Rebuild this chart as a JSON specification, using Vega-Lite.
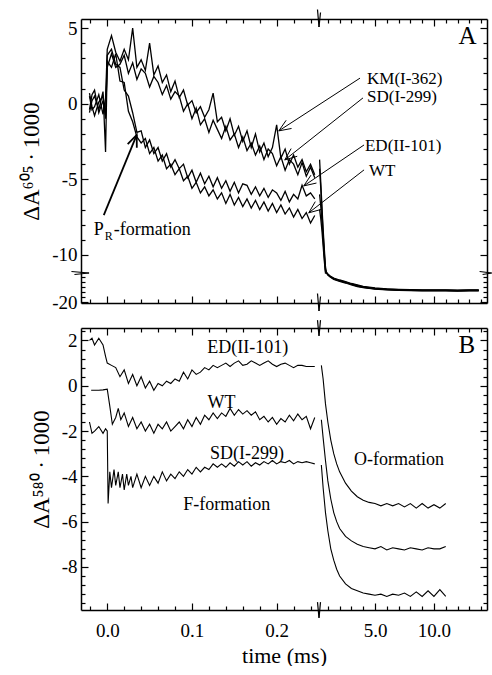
{
"$schema": "https://vega.github.io/schema/vega-lite/v6.json",
"padding": {"left": 20, "top": 8, "right": 0, "bottom": 0},
"bounds": "flush",
"spacing": 25,
"config": {
  "view": {"stroke": null},
  "axis": {"domainColor": "black", "tickColor": "black", "labelColor": "black", "titleColor": "black", "labelFont": "Liberation Serif", "titleFont": "Liberation Serif", "grid": false, "domainWidth": 1.5, "tickWidth": 1.2, "labelOverlap": false, "labelFlush": false, "labelBound": false, "titleFontWeight": "normal"},
  "line": {"color": "black", "strokeWidth": 1.1},
  "rule": {"color": "black", "strokeWidth": 1.2},
  "text": {"font": "Liberation Serif", "color": "black"}
},
"datasets": {
"a": [
{"s":"KM","p":1,"t":-0.021,"v":0.5},{"s":"KM","p":1,"t":-0.018,"v":-0.4},{"s":"KM","p":1,"t":-0.015,"v":-0.2},{"s":"KM","p":1,"t":-0.01,"v":0.6},{"s":"KM","p":1,"t":-0.005,"v":-0.7},{"s":"KM","p":1,"t":-0.002,"v":0.4},{"s":"KM","p":1,"t":0,"v":3.6},
{"s":"KM","p":1,"t":0.005,"v":4.5},{"s":"KM","p":1,"t":0.01,"v":3.4},{"s":"KM","p":1,"t":0.015,"v":2.8},{"s":"KM","p":1,"t":0.02,"v":3.6},{"s":"KM","p":1,"t":0.025,"v":2.9},{"s":"KM","p":1,"t":0.03,"v":5.0},{"s":"KM","p":1,"t":0.035,"v":2.4},{"s":"KM","p":1,"t":0.04,"v":2.9},{"s":"KM","p":1,"t":0.045,"v":2.2},{"s":"KM","p":1,"t":0.05,"v":4.0},
{"s":"KM","p":1,"t":0.055,"v":1.9},{"s":"KM","p":1,"t":0.06,"v":2.5},{"s":"KM","p":1,"t":0.065,"v":1.4},{"s":"KM","p":1,"t":0.07,"v":1.9},{"s":"KM","p":1,"t":0.075,"v":0.8},{"s":"KM","p":1,"t":0.08,"v":1.5},{"s":"KM","p":1,"t":0.085,"v":0.4},{"s":"KM","p":1,"t":0.09,"v":0.9},{"s":"KM","p":1,"t":0.095,"v":-0.1},{"s":"KM","p":1,"t":0.1,"v":0.2},
{"s":"KM","p":1,"t":0.105,"v":-0.6},{"s":"KM","p":1,"t":0.11,"v":-0.2},{"s":"KM","p":1,"t":0.115,"v":-0.9},{"s":"KM","p":1,"t":0.12,"v":-0.4},{"s":"KM","p":1,"t":0.125,"v":0.7},{"s":"KM","p":1,"t":0.13,"v":-1.2},{"s":"KM","p":1,"t":0.135,"v":-0.9},{"s":"KM","p":1,"t":0.14,"v":-1.8},{"s":"KM","p":1,"t":0.145,"v":-1.0},{"s":"KM","p":1,"t":0.15,"v":-2.1},
{"s":"KM","p":1,"t":0.155,"v":-1.5},{"s":"KM","p":1,"t":0.16,"v":-2.5},{"s":"KM","p":1,"t":0.165,"v":-1.8},{"s":"KM","p":1,"t":0.17,"v":-2.9},{"s":"KM","p":1,"t":0.175,"v":-2.0},{"s":"KM","p":1,"t":0.18,"v":-3.2},{"s":"KM","p":1,"t":0.185,"v":-2.6},{"s":"KM","p":1,"t":0.19,"v":-3.5},{"s":"KM","p":1,"t":0.195,"v":-2.9},{"s":"KM","p":1,"t":0.2,"v":-1.4},
{"s":"KM","p":1,"t":0.205,"v":-3.6},{"s":"KM","p":1,"t":0.21,"v":-3.0},{"s":"KM","p":1,"t":0.215,"v":-4.0},{"s":"KM","p":1,"t":0.22,"v":-3.4},{"s":"KM","p":1,"t":0.225,"v":-4.2},{"s":"KM","p":1,"t":0.23,"v":-3.7},{"s":"KM","p":1,"t":0.235,"v":-4.5},{"s":"KM","p":1,"t":0.24,"v":-4.0},{"s":"KM","p":1,"t":0.245,"v":-4.7},
{"s":"SD","p":1,"t":-0.021,"v":-0.4},{"s":"SD","p":1,"t":-0.018,"v":0.6},{"s":"SD","p":1,"t":-0.015,"v":0.9},{"s":"SD","p":1,"t":-0.01,"v":-0.6},{"s":"SD","p":1,"t":-0.005,"v":0.2},{"s":"SD","p":1,"t":-0.002,"v":-0.8},{"s":"SD","p":1,"t":0,"v":2.4},
{"s":"SD","p":1,"t":0.005,"v":3.3},{"s":"SD","p":1,"t":0.01,"v":2.4},{"s":"SD","p":1,"t":0.015,"v":2.6},{"s":"SD","p":1,"t":0.02,"v":3.2},{"s":"SD","p":1,"t":0.025,"v":2.0},{"s":"SD","p":1,"t":0.03,"v":2.7},{"s":"SD","p":1,"t":0.035,"v":1.6},{"s":"SD","p":1,"t":0.04,"v":2.3},{"s":"SD","p":1,"t":0.045,"v":2.0},{"s":"SD","p":1,"t":0.05,"v":1.1},
{"s":"SD","p":1,"t":0.055,"v":1.8},{"s":"SD","p":1,"t":0.06,"v":1.4},{"s":"SD","p":1,"t":0.065,"v":0.6},{"s":"SD","p":1,"t":0.07,"v":1.2},{"s":"SD","p":1,"t":0.075,"v":0.3},{"s":"SD","p":1,"t":0.08,"v":0.8},{"s":"SD","p":1,"t":0.085,"v":0.5},{"s":"SD","p":1,"t":0.09,"v":-0.5},{"s":"SD","p":1,"t":0.095,"v":0.0},{"s":"SD","p":1,"t":0.1,"v":-1.0},
{"s":"SD","p":1,"t":0.105,"v":-0.3},{"s":"SD","p":1,"t":0.11,"v":-1.4},{"s":"SD","p":1,"t":0.115,"v":-1.0},{"s":"SD","p":1,"t":0.12,"v":-1.9},{"s":"SD","p":1,"t":0.125,"v":-1.1},{"s":"SD","p":1,"t":0.13,"v":-1.7},{"s":"SD","p":1,"t":0.135,"v":-2.3},{"s":"SD","p":1,"t":0.14,"v":-1.5},{"s":"SD","p":1,"t":0.145,"v":-2.4},{"s":"SD","p":1,"t":0.15,"v":-2.0},
{"s":"SD","p":1,"t":0.155,"v":-2.9},{"s":"SD","p":1,"t":0.16,"v":-2.2},{"s":"SD","p":1,"t":0.165,"v":-3.1},{"s":"SD","p":1,"t":0.17,"v":-2.6},{"s":"SD","p":1,"t":0.175,"v":-3.4},{"s":"SD","p":1,"t":0.18,"v":-2.8},{"s":"SD","p":1,"t":0.185,"v":-3.7},{"s":"SD","p":1,"t":0.19,"v":-3.0},{"s":"SD","p":1,"t":0.195,"v":-3.3},{"s":"SD","p":1,"t":0.2,"v":-4.1},
{"s":"SD","p":1,"t":0.205,"v":-3.5},{"s":"SD","p":1,"t":0.21,"v":-4.4},{"s":"SD","p":1,"t":0.215,"v":-3.7},{"s":"SD","p":1,"t":0.22,"v":-4.0},{"s":"SD","p":1,"t":0.225,"v":-4.7},{"s":"SD","p":1,"t":0.23,"v":-3.9},{"s":"SD","p":1,"t":0.235,"v":-4.8},{"s":"SD","p":1,"t":0.24,"v":-4.2},{"s":"SD","p":1,"t":0.245,"v":-4.9},
{"s":"ED","p":1,"t":-0.021,"v":0.7},{"s":"ED","p":1,"t":-0.018,"v":-0.2},{"s":"ED","p":1,"t":-0.015,"v":-0.8},{"s":"ED","p":1,"t":-0.01,"v":0.1},{"s":"ED","p":1,"t":-0.005,"v":0.5},{"s":"ED","p":1,"t":-0.002,"v":-1.0},{"s":"ED","p":1,"t":0,"v":3.2},
{"s":"ED","p":1,"t":0.005,"v":3.6},{"s":"ED","p":1,"t":0.01,"v":2.6},{"s":"ED","p":1,"t":0.015,"v":2.4},{"s":"ED","p":1,"t":0.02,"v":0.9},{"s":"ED","p":1,"t":0.025,"v":0.5},{"s":"ED","p":1,"t":0.03,"v":-0.6},{"s":"ED","p":1,"t":0.035,"v":-1.9},{"s":"ED","p":1,"t":0.04,"v":-1.8},{"s":"ED","p":1,"t":0.045,"v":-2.9},{"s":"ED","p":1,"t":0.05,"v":-2.4},
{"s":"ED","p":1,"t":0.055,"v":-3.3},{"s":"ED","p":1,"t":0.06,"v":-2.9},{"s":"ED","p":1,"t":0.065,"v":-3.8},{"s":"ED","p":1,"t":0.07,"v":-3.3},{"s":"ED","p":1,"t":0.075,"v":-4.2},{"s":"ED","p":1,"t":0.08,"v":-3.7},{"s":"ED","p":1,"t":0.085,"v":-4.3},{"s":"ED","p":1,"t":0.09,"v":-4.0},{"s":"ED","p":1,"t":0.095,"v":-4.9},{"s":"ED","p":1,"t":0.1,"v":-4.4},
{"s":"ED","p":1,"t":0.105,"v":-5.2},{"s":"ED","p":1,"t":0.11,"v":-4.6},{"s":"ED","p":1,"t":0.115,"v":-5.3},{"s":"ED","p":1,"t":0.12,"v":-4.8},{"s":"ED","p":1,"t":0.125,"v":-5.5},{"s":"ED","p":1,"t":0.13,"v":-4.9},{"s":"ED","p":1,"t":0.135,"v":-5.6},{"s":"ED","p":1,"t":0.14,"v":-5.1},{"s":"ED","p":1,"t":0.145,"v":-5.8},{"s":"ED","p":1,"t":0.15,"v":-5.2},
{"s":"ED","p":1,"t":0.155,"v":-5.9},{"s":"ED","p":1,"t":0.16,"v":-5.3},{"s":"ED","p":1,"t":0.165,"v":-5.4},{"s":"ED","p":1,"t":0.17,"v":-6.0},{"s":"ED","p":1,"t":0.175,"v":-5.5},{"s":"ED","p":1,"t":0.18,"v":-6.1},{"s":"ED","p":1,"t":0.185,"v":-5.6},{"s":"ED","p":1,"t":0.19,"v":-6.2},{"s":"ED","p":1,"t":0.195,"v":-5.7},{"s":"ED","p":1,"t":0.2,"v":-5.9},
{"s":"ED","p":1,"t":0.205,"v":-6.4},{"s":"ED","p":1,"t":0.21,"v":-5.8},{"s":"ED","p":1,"t":0.215,"v":-6.5},{"s":"ED","p":1,"t":0.22,"v":-6.0},{"s":"ED","p":1,"t":0.225,"v":-6.3},{"s":"ED","p":1,"t":0.23,"v":-5.4},{"s":"ED","p":1,"t":0.235,"v":-6.1},{"s":"ED","p":1,"t":0.24,"v":-5.9},{"s":"ED","p":1,"t":0.245,"v":-6.3},
{"s":"WT","p":1,"t":-0.021,"v":-0.6},{"s":"WT","p":1,"t":-0.018,"v":0.2},{"s":"WT","p":1,"t":-0.015,"v":0.5},{"s":"WT","p":1,"t":-0.01,"v":-0.4},{"s":"WT","p":1,"t":-0.005,"v":0.8},{"s":"WT","p":1,"t":-0.002,"v":-3.2},{"s":"WT","p":1,"t":0,"v":2.8},
{"s":"WT","p":1,"t":0.005,"v":2.4},{"s":"WT","p":1,"t":0.01,"v":3.3},{"s":"WT","p":1,"t":0.015,"v":1.5},{"s":"WT","p":1,"t":0.02,"v":1.4},{"s":"WT","p":1,"t":0.025,"v":-0.5},{"s":"WT","p":1,"t":0.03,"v":-1.2},{"s":"WT","p":1,"t":0.035,"v":-2.2},{"s":"WT","p":1,"t":0.04,"v":-2.6},{"s":"WT","p":1,"t":0.045,"v":-2.3},{"s":"WT","p":1,"t":0.05,"v":-3.3},
{"s":"WT","p":1,"t":0.055,"v":-2.9},{"s":"WT","p":1,"t":0.06,"v":-3.8},{"s":"WT","p":1,"t":0.065,"v":-3.4},{"s":"WT","p":1,"t":0.07,"v":-4.3},{"s":"WT","p":1,"t":0.075,"v":-4.0},{"s":"WT","p":1,"t":0.08,"v":-4.7},{"s":"WT","p":1,"t":0.085,"v":-4.3},{"s":"WT","p":1,"t":0.09,"v":-5.1},{"s":"WT","p":1,"t":0.095,"v":-4.8},{"s":"WT","p":1,"t":0.1,"v":-5.6},
{"s":"WT","p":1,"t":0.105,"v":-5.2},{"s":"WT","p":1,"t":0.11,"v":-5.9},{"s":"WT","p":1,"t":0.115,"v":-5.5},{"s":"WT","p":1,"t":0.12,"v":-6.1},{"s":"WT","p":1,"t":0.125,"v":-5.7},{"s":"WT","p":1,"t":0.13,"v":-6.3},{"s":"WT","p":1,"t":0.135,"v":-5.9},{"s":"WT","p":1,"t":0.14,"v":-6.6},{"s":"WT","p":1,"t":0.145,"v":-6.0},{"s":"WT","p":1,"t":0.15,"v":-6.7},
{"s":"WT","p":1,"t":0.155,"v":-6.2},{"s":"WT","p":1,"t":0.16,"v":-6.8},{"s":"WT","p":1,"t":0.165,"v":-6.3},{"s":"WT","p":1,"t":0.17,"v":-6.9},{"s":"WT","p":1,"t":0.175,"v":-6.4},{"s":"WT","p":1,"t":0.18,"v":-7.0},{"s":"WT","p":1,"t":0.185,"v":-6.5},{"s":"WT","p":1,"t":0.19,"v":-7.1},{"s":"WT","p":1,"t":0.195,"v":-6.6},{"s":"WT","p":1,"t":0.2,"v":-7.2},
{"s":"WT","p":1,"t":0.205,"v":-6.7},{"s":"WT","p":1,"t":0.21,"v":-7.3},{"s":"WT","p":1,"t":0.215,"v":-6.9},{"s":"WT","p":1,"t":0.22,"v":-7.5},{"s":"WT","p":1,"t":0.225,"v":-7.0},{"s":"WT","p":1,"t":0.23,"v":-7.6},{"s":"WT","p":1,"t":0.235,"v":-7.2},{"s":"WT","p":1,"t":0.24,"v":-7.9},{"s":"WT","p":1,"t":0.245,"v":-7.4},
{"s":"KM","p":2,"t":0.3,"v":-3.7},{"s":"KM","p":2,"t":0.4,"v":-5.2},{"s":"KM","p":2,"t":0.5,"v":-6.8},{"s":"KM","p":2,"t":0.6,"v":-8.3},{"s":"KM","p":2,"t":0.7,"v":-9.6},{"s":"KM","p":2,"t":0.8,"v":-10.8},{"s":"KM","p":2,"t":0.9,"v":-12.0},{"s":"KM","p":2,"t":1.0,"v":-14.4},{"s":"KM","p":2,"t":1.2,"v":-14.8},{"s":"KM","p":2,"t":1.5,"v":-15.2},{"s":"KM","p":2,"t":2.0,"v":-15.6},{"s":"KM","p":2,"t":2.5,"v":-15.9},{"s":"KM","p":2,"t":3.0,"v":-16.3},{"s":"KM","p":2,"t":3.5,"v":-16.6},{"s":"KM","p":2,"t":4.0,"v":-16.9},{"s":"KM","p":2,"t":5.0,"v":-17.2},{"s":"KM","p":2,"t":6.0,"v":-17.4},{"s":"KM","p":2,"t":7.0,"v":-17.5},{"s":"KM","p":2,"t":8.0,"v":-17.55},{"s":"KM","p":2,"t":9.0,"v":-17.6},{"s":"KM","p":2,"t":10.0,"v":-17.6},{"s":"KM","p":2,"t":11.0,"v":-17.6},{"s":"KM","p":2,"t":12.0,"v":-17.65},{"s":"KM","p":2,"t":13.0,"v":-17.6},{"s":"KM","p":2,"t":13.8,"v":-17.6},
{"s":"SD","p":2,"t":0.3,"v":-4.3},{"s":"SD","p":2,"t":0.4,"v":-5.6},{"s":"SD","p":2,"t":0.5,"v":-7.1},{"s":"SD","p":2,"t":0.6,"v":-8.6},{"s":"SD","p":2,"t":0.7,"v":-9.9},{"s":"SD","p":2,"t":0.8,"v":-11.0},{"s":"SD","p":2,"t":0.9,"v":-12.0},{"s":"SD","p":2,"t":1.0,"v":-14.5},{"s":"SD","p":2,"t":1.2,"v":-14.9},{"s":"SD","p":2,"t":1.5,"v":-15.3},{"s":"SD","p":2,"t":2.0,"v":-15.7},{"s":"SD","p":2,"t":2.5,"v":-16.0},{"s":"SD","p":2,"t":3.0,"v":-16.4},{"s":"SD","p":2,"t":3.5,"v":-16.7},{"s":"SD","p":2,"t":4.0,"v":-17.0},{"s":"SD","p":2,"t":5.0,"v":-17.3},{"s":"SD","p":2,"t":6.0,"v":-17.45},{"s":"SD","p":2,"t":7.0,"v":-17.55},{"s":"SD","p":2,"t":8.0,"v":-17.6},{"s":"SD","p":2,"t":9.0,"v":-17.65},{"s":"SD","p":2,"t":10.0,"v":-17.65},{"s":"SD","p":2,"t":11.0,"v":-17.65},{"s":"SD","p":2,"t":12.0,"v":-17.7},{"s":"SD","p":2,"t":13.0,"v":-17.65},{"s":"SD","p":2,"t":13.8,"v":-17.65},
{"s":"ED","p":2,"t":0.3,"v":-6.0},{"s":"ED","p":2,"t":0.4,"v":-6.8},{"s":"ED","p":2,"t":0.5,"v":-7.8},{"s":"ED","p":2,"t":0.6,"v":-9.0},{"s":"ED","p":2,"t":0.7,"v":-10.1},{"s":"ED","p":2,"t":0.8,"v":-11.1},{"s":"ED","p":2,"t":0.9,"v":-12.2},{"s":"ED","p":2,"t":1.0,"v":-14.5},{"s":"ED","p":2,"t":1.2,"v":-14.95},{"s":"ED","p":2,"t":1.5,"v":-15.4},{"s":"ED","p":2,"t":2.0,"v":-15.8},{"s":"ED","p":2,"t":2.5,"v":-16.1},{"s":"ED","p":2,"t":3.0,"v":-16.5},{"s":"ED","p":2,"t":3.5,"v":-16.8},{"s":"ED","p":2,"t":4.0,"v":-17.05},{"s":"ED","p":2,"t":5.0,"v":-17.35},{"s":"ED","p":2,"t":6.0,"v":-17.5},{"s":"ED","p":2,"t":7.0,"v":-17.6},{"s":"ED","p":2,"t":8.0,"v":-17.65},{"s":"ED","p":2,"t":9.0,"v":-17.7},{"s":"ED","p":2,"t":10.0,"v":-17.7},{"s":"ED","p":2,"t":11.0,"v":-17.7},{"s":"ED","p":2,"t":12.0,"v":-17.75},{"s":"ED","p":2,"t":13.0,"v":-17.7},{"s":"ED","p":2,"t":13.8,"v":-17.7},
{"s":"WT","p":2,"t":0.3,"v":-7.0},{"s":"WT","p":2,"t":0.4,"v":-7.6},{"s":"WT","p":2,"t":0.5,"v":-8.4},{"s":"WT","p":2,"t":0.6,"v":-9.4},{"s":"WT","p":2,"t":0.7,"v":-10.4},{"s":"WT","p":2,"t":0.8,"v":-11.2},{"s":"WT","p":2,"t":0.9,"v":-12.3},{"s":"WT","p":2,"t":1.0,"v":-14.6},{"s":"WT","p":2,"t":1.2,"v":-15.0},{"s":"WT","p":2,"t":1.5,"v":-15.5},{"s":"WT","p":2,"t":2.0,"v":-15.9},{"s":"WT","p":2,"t":2.5,"v":-16.2},{"s":"WT","p":2,"t":3.0,"v":-16.6},{"s":"WT","p":2,"t":3.5,"v":-16.9},{"s":"WT","p":2,"t":4.0,"v":-17.1},{"s":"WT","p":2,"t":5.0,"v":-17.4},{"s":"WT","p":2,"t":6.0,"v":-17.55},{"s":"WT","p":2,"t":7.0,"v":-17.65},{"s":"WT","p":2,"t":8.0,"v":-17.7},{"s":"WT","p":2,"t":9.0,"v":-17.75},{"s":"WT","p":2,"t":10.0,"v":-17.75},{"s":"WT","p":2,"t":11.0,"v":-17.75},{"s":"WT","p":2,"t":12.0,"v":-17.8},{"s":"WT","p":2,"t":13.0,"v":-17.75},{"s":"WT","p":2,"t":13.8,"v":-17.75}
],
"b": [
{"s":"ED","p":1,"t":-0.021,"v":2.0},{"s":"ED","p":1,"t":-0.018,"v":2.1},{"s":"ED","p":1,"t":-0.015,"v":1.8},{"s":"ED","p":1,"t":-0.01,"v":2.1},{"s":"ED","p":1,"t":-0.005,"v":1.8},{"s":"ED","p":1,"t":-0.002,"v":1.3},{"s":"ED","p":1,"t":0,"v":1.0},
{"s":"ED","p":1,"t":0.005,"v":0.9},{"s":"ED","p":1,"t":0.01,"v":0.8},{"s":"ED","p":1,"t":0.015,"v":0.4},{"s":"ED","p":1,"t":0.02,"v":0.7},{"s":"ED","p":1,"t":0.025,"v":0.1},{"s":"ED","p":1,"t":0.03,"v":0.5},{"s":"ED","p":1,"t":0.035,"v":0.0},{"s":"ED","p":1,"t":0.04,"v":0.4},{"s":"ED","p":1,"t":0.045,"v":-0.1},{"s":"ED","p":1,"t":0.05,"v":0.2},
{"s":"ED","p":1,"t":0.055,"v":-0.2},{"s":"ED","p":1,"t":0.06,"v":0.1},{"s":"ED","p":1,"t":0.065,"v":0.0},{"s":"ED","p":1,"t":0.07,"v":0.2},{"s":"ED","p":1,"t":0.075,"v":0.1},{"s":"ED","p":1,"t":0.08,"v":0.3},{"s":"ED","p":1,"t":0.085,"v":0.2},{"s":"ED","p":1,"t":0.09,"v":0.6},{"s":"ED","p":1,"t":0.095,"v":0.3},{"s":"ED","p":1,"t":0.1,"v":0.7},
{"s":"ED","p":1,"t":0.105,"v":0.5},{"s":"ED","p":1,"t":0.11,"v":0.6},{"s":"ED","p":1,"t":0.115,"v":0.8},{"s":"ED","p":1,"t":0.12,"v":0.7},{"s":"ED","p":1,"t":0.125,"v":0.9},{"s":"ED","p":1,"t":0.13,"v":0.8},{"s":"ED","p":1,"t":0.135,"v":0.9},{"s":"ED","p":1,"t":0.14,"v":1.0},{"s":"ED","p":1,"t":0.145,"v":0.85},{"s":"ED","p":1,"t":0.15,"v":1.0},
{"s":"ED","p":1,"t":0.155,"v":1.1},{"s":"ED","p":1,"t":0.16,"v":0.9},{"s":"ED","p":1,"t":0.165,"v":0.95},{"s":"ED","p":1,"t":0.17,"v":1.1},{"s":"ED","p":1,"t":0.175,"v":1.0},{"s":"ED","p":1,"t":0.18,"v":0.9},{"s":"ED","p":1,"t":0.185,"v":1.0},{"s":"ED","p":1,"t":0.19,"v":1.1},{"s":"ED","p":1,"t":0.195,"v":0.95},{"s":"ED","p":1,"t":0.2,"v":0.85},
{"s":"ED","p":1,"t":0.205,"v":0.95},{"s":"ED","p":1,"t":0.21,"v":1.0},{"s":"ED","p":1,"t":0.215,"v":0.9},{"s":"ED","p":1,"t":0.22,"v":0.8},{"s":"ED","p":1,"t":0.225,"v":0.9},{"s":"ED","p":1,"t":0.23,"v":0.9},{"s":"ED","p":1,"t":0.235,"v":0.85},{"s":"ED","p":1,"t":0.24,"v":0.85},{"s":"ED","p":1,"t":0.245,"v":0.85},
{"s":"WT","p":1,"t":-0.019,"v":-0.2},{"s":"WT","p":1,"t":-0.015,"v":-0.2},{"s":"WT","p":1,"t":-0.01,"v":-0.2},{"s":"WT","p":1,"t":-0.005,"v":-0.18},{"s":"WT","p":1,"t":0,"v":-0.15},{"s":"WT","p":1,"t":0.003,"v":-0.9},{"s":"WT","p":1,"t":0.006,"v":-1.7},{"s":"WT","p":1,"t":0.01,"v":-1.4},{"s":"WT","p":1,"t":0.013,"v":-1.0},{"s":"WT","p":1,"t":0.016,"v":-1.5},{"s":"WT","p":1,"t":0.02,"v":-1.2},
{"s":"WT","p":1,"t":0.025,"v":-1.8},{"s":"WT","p":1,"t":0.03,"v":-1.4},{"s":"WT","p":1,"t":0.035,"v":-1.9},{"s":"WT","p":1,"t":0.04,"v":-1.6},{"s":"WT","p":1,"t":0.045,"v":-2.0},{"s":"WT","p":1,"t":0.05,"v":-1.7},{"s":"WT","p":1,"t":0.055,"v":-2.1},{"s":"WT","p":1,"t":0.06,"v":-1.7},{"s":"WT","p":1,"t":0.065,"v":-1.9},{"s":"WT","p":1,"t":0.07,"v":-1.6},
{"s":"WT","p":1,"t":0.075,"v":-2.0},{"s":"WT","p":1,"t":0.08,"v":-1.8},{"s":"WT","p":1,"t":0.085,"v":-1.6},{"s":"WT","p":1,"t":0.09,"v":-1.9},{"s":"WT","p":1,"t":0.095,"v":-1.5},{"s":"WT","p":1,"t":0.1,"v":-1.8},{"s":"WT","p":1,"t":0.105,"v":-1.4},{"s":"WT","p":1,"t":0.11,"v":-1.7},{"s":"WT","p":1,"t":0.115,"v":-1.3},{"s":"WT","p":1,"t":0.12,"v":-1.5},
{"s":"WT","p":1,"t":0.125,"v":-1.2},{"s":"WT","p":1,"t":0.13,"v":-1.45},{"s":"WT","p":1,"t":0.135,"v":-1.2},{"s":"WT","p":1,"t":0.14,"v":-1.35},{"s":"WT","p":1,"t":0.145,"v":-1.0},{"s":"WT","p":1,"t":0.15,"v":-1.3},{"s":"WT","p":1,"t":0.155,"v":-1.05},{"s":"WT","p":1,"t":0.16,"v":-1.25},{"s":"WT","p":1,"t":0.165,"v":-1.1},{"s":"WT","p":1,"t":0.17,"v":-1.3},
{"s":"WT","p":1,"t":0.175,"v":-1.15},{"s":"WT","p":1,"t":0.18,"v":-1.5},{"s":"WT","p":1,"t":0.185,"v":-1.35},{"s":"WT","p":1,"t":0.19,"v":-1.6},{"s":"WT","p":1,"t":0.195,"v":-1.4},{"s":"WT","p":1,"t":0.2,"v":-1.7},{"s":"WT","p":1,"t":0.205,"v":-1.45},{"s":"WT","p":1,"t":0.21,"v":-1.6},{"s":"WT","p":1,"t":0.215,"v":-1.3},{"s":"WT","p":1,"t":0.22,"v":-1.55},
{"s":"WT","p":1,"t":0.225,"v":-1.25},{"s":"WT","p":1,"t":0.23,"v":-1.5},{"s":"WT","p":1,"t":0.235,"v":-1.35},{"s":"WT","p":1,"t":0.24,"v":-1.9},{"s":"WT","p":1,"t":0.245,"v":-1.4},
{"s":"SD","p":1,"t":-0.021,"v":-1.6},{"s":"SD","p":1,"t":-0.018,"v":-2.1},{"s":"SD","p":1,"t":-0.015,"v":-2.0},{"s":"SD","p":1,"t":-0.01,"v":-1.8},{"s":"SD","p":1,"t":-0.005,"v":-2.1},{"s":"SD","p":1,"t":-0.002,"v":-1.9},{"s":"SD","p":1,"t":0,"v":-2.0},{"s":"SD","p":1,"t":0.001,"v":-5.2},{"s":"SD","p":1,"t":0.003,"v":-3.8},{"s":"SD","p":1,"t":0.005,"v":-4.5},{"s":"SD","p":1,"t":0.008,"v":-3.7},{"s":"SD","p":1,"t":0.01,"v":-4.4},{"s":"SD","p":1,"t":0.013,"v":-3.8},{"s":"SD","p":1,"t":0.015,"v":-4.5},{"s":"SD","p":1,"t":0.018,"v":-3.9},{"s":"SD","p":1,"t":0.02,"v":-4.6},{"s":"SD","p":1,"t":0.023,"v":-3.9},{"s":"SD","p":1,"t":0.025,"v":-4.4},{"s":"SD","p":1,"t":0.028,"v":-4.0},{"s":"SD","p":1,"t":0.03,"v":-4.5},
{"s":"SD","p":1,"t":0.035,"v":-3.9},{"s":"SD","p":1,"t":0.04,"v":-4.5},{"s":"SD","p":1,"t":0.045,"v":-4.0},{"s":"SD","p":1,"t":0.05,"v":-4.4},{"s":"SD","p":1,"t":0.055,"v":-4.0},{"s":"SD","p":1,"t":0.06,"v":-4.3},{"s":"SD","p":1,"t":0.065,"v":-3.8},{"s":"SD","p":1,"t":0.07,"v":-4.2},{"s":"SD","p":1,"t":0.075,"v":-3.9},{"s":"SD","p":1,"t":0.08,"v":-4.1},
{"s":"SD","p":1,"t":0.085,"v":-3.8},{"s":"SD","p":1,"t":0.09,"v":-4.0},{"s":"SD","p":1,"t":0.095,"v":-3.7},{"s":"SD","p":1,"t":0.1,"v":-3.9},{"s":"SD","p":1,"t":0.105,"v":-3.6},{"s":"SD","p":1,"t":0.11,"v":-3.8},{"s":"SD","p":1,"t":0.115,"v":-3.6},{"s":"SD","p":1,"t":0.12,"v":-3.7},{"s":"SD","p":1,"t":0.125,"v":-3.45},{"s":"SD","p":1,"t":0.13,"v":-3.6},
{"s":"SD","p":1,"t":0.135,"v":-3.45},{"s":"SD","p":1,"t":0.14,"v":-3.6},{"s":"SD","p":1,"t":0.145,"v":-3.4},{"s":"SD","p":1,"t":0.15,"v":-3.55},{"s":"SD","p":1,"t":0.155,"v":-3.35},{"s":"SD","p":1,"t":0.16,"v":-3.5},{"s":"SD","p":1,"t":0.165,"v":-3.35},{"s":"SD","p":1,"t":0.17,"v":-3.55},{"s":"SD","p":1,"t":0.175,"v":-3.4},{"s":"SD","p":1,"t":0.18,"v":-3.5},
{"s":"SD","p":1,"t":0.185,"v":-3.35},{"s":"SD","p":1,"t":0.19,"v":-3.45},{"s":"SD","p":1,"t":0.195,"v":-3.3},{"s":"SD","p":1,"t":0.2,"v":-3.45},{"s":"SD","p":1,"t":0.205,"v":-3.35},{"s":"SD","p":1,"t":0.21,"v":-3.4},{"s":"SD","p":1,"t":0.215,"v":-3.3},{"s":"SD","p":1,"t":0.22,"v":-3.45},{"s":"SD","p":1,"t":0.225,"v":-3.35},{"s":"SD","p":1,"t":0.23,"v":-3.4},
{"s":"SD","p":1,"t":0.235,"v":-3.35},{"s":"SD","p":1,"t":0.24,"v":-3.4},{"s":"SD","p":1,"t":0.245,"v":-3.45},
{"s":"ED","p":2,"t":0.45,"v":0.9},{"s":"ED","p":2,"t":0.6,"v":0.3},{"s":"ED","p":2,"t":0.8,"v":-0.8},{"s":"ED","p":2,"t":1.0,"v":-1.6},{"s":"ED","p":2,"t":1.25,"v":-2.4},{"s":"ED","p":2,"t":1.5,"v":-3.0},{"s":"ED","p":2,"t":1.75,"v":-3.45},{"s":"ED","p":2,"t":2.0,"v":-3.8},{"s":"ED","p":2,"t":2.5,"v":-4.3},{"s":"ED","p":2,"t":3.0,"v":-4.65},{"s":"ED","p":2,"t":3.5,"v":-4.9},{"s":"ED","p":2,"t":4.0,"v":-5.05},{"s":"ED","p":2,"t":4.5,"v":-5.15},{"s":"ED","p":2,"t":5.0,"v":-5.2},{"s":"ED","p":2,"t":5.5,"v":-5.3},{"s":"ED","p":2,"t":6.0,"v":-5.2},{"s":"ED","p":2,"t":6.5,"v":-5.3},{"s":"ED","p":2,"t":7.0,"v":-5.2},{"s":"ED","p":2,"t":7.5,"v":-5.35},{"s":"ED","p":2,"t":8.0,"v":-5.2},{"s":"ED","p":2,"t":8.5,"v":-5.4},{"s":"ED","p":2,"t":9.0,"v":-5.2},{"s":"ED","p":2,"t":9.5,"v":-5.4},{"s":"ED","p":2,"t":10.0,"v":-5.25},{"s":"ED","p":2,"t":10.5,"v":-5.4},{"s":"ED","p":2,"t":11.0,"v":-5.2},
{"s":"WT","p":2,"t":0.45,"v":-1.5},{"s":"WT","p":2,"t":0.6,"v":-2.3},{"s":"WT","p":2,"t":0.8,"v":-3.3},{"s":"WT","p":2,"t":1.0,"v":-4.2},{"s":"WT","p":2,"t":1.25,"v":-5.0},{"s":"WT","p":2,"t":1.5,"v":-5.6},{"s":"WT","p":2,"t":1.75,"v":-6.0},{"s":"WT","p":2,"t":2.0,"v":-6.3},{"s":"WT","p":2,"t":2.5,"v":-6.65},{"s":"WT","p":2,"t":3.0,"v":-6.85},{"s":"WT","p":2,"t":3.5,"v":-7.0},{"s":"WT","p":2,"t":4.0,"v":-7.1},{"s":"WT","p":2,"t":4.5,"v":-7.15},{"s":"WT","p":2,"t":5.0,"v":-7.2},{"s":"WT","p":2,"t":5.5,"v":-7.1},{"s":"WT","p":2,"t":6.0,"v":-7.25},{"s":"WT","p":2,"t":6.5,"v":-7.15},{"s":"WT","p":2,"t":7.0,"v":-7.2},{"s":"WT","p":2,"t":7.5,"v":-7.25},{"s":"WT","p":2,"t":8.0,"v":-7.15},{"s":"WT","p":2,"t":8.5,"v":-7.2},{"s":"WT","p":2,"t":9.0,"v":-7.25},{"s":"WT","p":2,"t":9.5,"v":-7.15},{"s":"WT","p":2,"t":10.0,"v":-7.2},{"s":"WT","p":2,"t":10.5,"v":-7.2},{"s":"WT","p":2,"t":11.0,"v":-7.1},
{"s":"SD","p":2,"t":0.45,"v":-3.5},{"s":"SD","p":2,"t":0.6,"v":-4.5},{"s":"SD","p":2,"t":0.8,"v":-5.6},{"s":"SD","p":2,"t":1.0,"v":-6.4},{"s":"SD","p":2,"t":1.25,"v":-7.2},{"s":"SD","p":2,"t":1.5,"v":-7.7},{"s":"SD","p":2,"t":1.75,"v":-8.1},{"s":"SD","p":2,"t":2.0,"v":-8.4},{"s":"SD","p":2,"t":2.5,"v":-8.75},{"s":"SD","p":2,"t":3.0,"v":-8.95},{"s":"SD","p":2,"t":3.5,"v":-9.05},{"s":"SD","p":2,"t":4.0,"v":-9.15},{"s":"SD","p":2,"t":4.5,"v":-9.2},{"s":"SD","p":2,"t":5.0,"v":-9.25},{"s":"SD","p":2,"t":5.5,"v":-9.2},{"s":"SD","p":2,"t":6.0,"v":-9.3},{"s":"SD","p":2,"t":6.5,"v":-9.2},{"s":"SD","p":2,"t":7.0,"v":-9.25},{"s":"SD","p":2,"t":7.5,"v":-9.15},{"s":"SD","p":2,"t":8.0,"v":-9.3},{"s":"SD","p":2,"t":8.5,"v":-9.1},{"s":"SD","p":2,"t":9.0,"v":-9.3},{"s":"SD","p":2,"t":9.5,"v":-9.05},{"s":"SD","p":2,"t":10.0,"v":-9.3},{"s":"SD","p":2,"t":10.5,"v":-9.0},{"s":"SD","p":2,"t":11.0,"v":-9.3}
],
"arrows": [
{"a":"KM","g":"s","o":1,"t":3.73,"v":1.69},{"a":"KM","g":"s","o":2,"t":0.2025,"v":-1.8},
{"a":"KM","g":"h","o":1,"t":0.2176,"v":-1.64},{"a":"KM","g":"h","o":2,"t":0.2025,"v":-1.8},{"a":"KM","g":"h","o":3,"t":0.2112,"v":-1.1},
{"a":"SD","g":"s","o":1,"t":3.98,"v":0.38},{"a":"SD","g":"s","o":2,"t":0.2096,"v":-3.72},
{"a":"SD","g":"h","o":1,"t":0.2243,"v":-3.48},{"a":"SD","g":"h","o":2,"t":0.2096,"v":-3.72},{"a":"SD","g":"h","o":3,"t":0.2171,"v":-2.97},
{"a":"ED","g":"s","o":1,"t":4.07,"v":-2.73},{"a":"ED","g":"s","o":2,"t":0.232,"v":-5.44},
{"a":"ED","g":"h","o":1,"t":0.247,"v":-5.25},{"a":"ED","g":"h","o":2,"t":0.232,"v":-5.44},{"a":"ED","g":"h","o":3,"t":0.2405,"v":-4.73},
{"a":"WT","g":"s","o":1,"t":4.07,"v":-4.38},{"a":"WT","g":"s","o":2,"t":0.2379,"v":-7.22},
{"a":"WT","g":"h","o":1,"t":0.462,"v":-6.99},{"a":"WT","g":"h","o":2,"t":0.2379,"v":-7.22},{"a":"WT","g":"h","o":3,"t":0.2456,"v":-6.48},
{"a":"PR","g":"s","o":1,"t":-0.0041,"v":-7.37},{"a":"PR","g":"s","o":2,"t":0.0348,"v":-2.07},
{"a":"PR","g":"h","o":1,"t":0.0241,"v":-2.68},{"a":"PR","g":"h","o":2,"t":0.0348,"v":-2.07},{"a":"PR","g":"h","o":3,"t":0.0349,"v":-2.92}
],
"breaksA": [
{"x1":0.25,"x2":0.25,"y1":6.13,"y2":5.07},{"x1":0.25,"x2":0.25,"y1":-18.6,"y2":-21.8},
{"x1":-0.0405,"x2":-0.0215,"y1":-12.5,"y2":-12.5},{"x1":14.0,"x2":14.9,"y1":-12.5,"y2":-12.5}
],
"breaksB": [
{"x1":0.25,"x2":0.25,"y1":2.9,"y2":2.2},{"x1":0.25,"x2":0.25,"y1":-9.55,"y2":-10.25}
]
},
"vconcat": [
{
 "width": 406, "height": 284,
 "resolve": {"axis": {"x": "independent", "y": "independent"}},
 "layer": [
  {
   "data": {"name": "a"},
   "mark": {"type": "line", "strokeWidth": 1.3},
   "encoding": {
    "x": {"field": "t", "type": "quantitative",
      "scale": {"type": "linear", "domain": [-0.031, 0.25, 14.5], "range": [0, 238, 406], "nice": false, "zero": false},
      "axis": {"orient": "bottom", "title": null, "labels": false, "tickSize": -7, "values": [0, 0.1, 0.2, 5, 10]}},
    "y": {"field": "v", "type": "quantitative",
      "scale": {"type": "linear", "domain": [-20.2, -14.2, -11.2, 5.6], "range": [284, 254, 254, 0], "nice": false, "zero": false},
      "axis": {"orient": "left", "title": "ΔA⁶⁰⁵ ∙ 1000", "titleFontSize": 23, "titlePadding": 8, "labelFontSize": 19, "labelPadding": 11, "tickSize": -7,
        "values": [-20, -10, -5, 0, 5], "labelExpr": "'' + datum.value"}},
    "detail": [{"field": "s", "type": "nominal"}, {"field": "p", "type": "nominal"}]
   }
  },
  {
   "data": {"name": "breaksA"},
   "mark": {"type": "rule", "xOffset": -1.5, "yOffset": -1.5},
   "encoding": {
    "x": {"field": "x1", "type": "quantitative",
      "scale": {"type": "linear", "domain": [-0.031, 0.25, 14.5], "range": [0, 238, 406], "nice": false, "zero": false},
      "axis": {"orient": "top", "title": null, "labels": false, "tickSize": -7, "values": [0, 0.1, 0.2, 5, 10]}},
    "x2": {"field": "x2"},
    "y": {"field": "y1", "type": "quantitative",
      "scale": {"type": "linear", "domain": [-20.2, -14.2, -11.2, 5.6], "range": [284, 254, 254, 0], "nice": false, "zero": false},
      "axis": {"orient": "right", "title": null, "labels": false, "tickSize": -7, "values": [-20, -10, -5, 0, 5]}},
    "y2": {"field": "y2"}
   }
  },
  {
   "data": {"name": "breaksA"},
   "mark": {"type": "rule", "xOffset": 1.5, "yOffset": 1.5},
   "encoding": {
    "x": {"field": "x1", "type": "quantitative",
      "axis": {"orient": "bottom", "title": null, "labels": false, "domain": false, "tickSize": -4,
        "values": [-0.02,0.02,0.04,0.06,0.08,0.12,0.14,0.16,0.18,0.22,0.24,1,2,3,4,6,7,8,9,11,12,13,14]}},
    "x2": {"field": "x2"},
    "y": {"field": "y1", "type": "quantitative",
      "axis": {"orient": "left", "title": null, "labels": false, "domain": false, "tickSize": -4,
        "values": [-19,-18,-17,-16,-15,-9,-8,-7,-6,-4,-3,-2,-1,1,2,3,4]}},
    "y2": {"field": "y2"}
   }
  },
  {
   "data": {"name": "arrows"},
   "transform": [{"filter": "datum.a != 'PR'"}],
   "mark": {"type": "line", "strokeWidth": 1},
   "encoding": {
    "x": {"field": "t", "type": "quantitative",
      "axis": {"orient": "top", "title": null, "labels": false, "domain": false, "tickSize": -4,
        "values": [-0.02,0.02,0.04,0.06,0.08,0.12,0.14,0.16,0.18,0.22,0.24,1,2,3,4,6,7,8,9,11,12,13,14]}},
    "y": {"field": "v", "type": "quantitative",
      "axis": {"orient": "right", "title": null, "labels": false, "domain": false, "tickSize": -4,
        "values": [-19,-18,-17,-16,-15,-9,-8,-7,-6,-4,-3,-2,-1,1,2,3,4]}},
    "detail": [{"field": "a", "type": "nominal"}, {"field": "g", "type": "nominal"}],
    "order": {"field": "o", "type": "quantitative"}
   }
  },
  {
   "data": {"name": "arrows"},
   "transform": [{"filter": "datum.a == 'PR'"}],
   "mark": {"type": "line", "strokeWidth": 1.8},
   "encoding": {
    "x": {"field": "t", "type": "quantitative", "axis": null},
    "y": {"field": "v", "type": "quantitative", "axis": null},
    "detail": {"field": "g", "type": "nominal"},
    "order": {"field": "o", "type": "quantitative"}
   }
  },
  {
   "data": {"values": [{"txt": "KM(I-362)", "t": 4.32, "v": 1.63}, {"txt": "SD(I-299)", "t": 4.32, "v": 0.44}, {"txt": "ED(II-101)", "t": 4.15, "v": -2.8}, {"txt": "WT", "t": 4.49, "v": -4.45}]},
   "mark": {"type": "text", "fontSize": 17, "align": "left", "baseline": "middle"},
   "encoding": {
    "x": {"field": "t", "type": "quantitative", "axis": null},
    "y": {"field": "v", "type": "quantitative", "axis": null},
    "text": {"field": "txt"}
   }
  },
  {
   "data": {"values": [{"txt": "A", "t": 12.84, "v": 4.47}]},
   "mark": {"type": "text", "fontSize": 25, "align": "center", "baseline": "middle"},
   "encoding": {
    "x": {"field": "t", "type": "quantitative", "axis": null},
    "y": {"field": "v", "type": "quantitative", "axis": null},
    "text": {"field": "txt"}
   }
  },
  {
   "data": {"values": [{"txt": "P", "t": -0.0159, "v": -8.35}]},
   "mark": {"type": "text", "fontSize": 18, "align": "left", "baseline": "middle"},
   "encoding": {
    "x": {"field": "t", "type": "quantitative", "axis": null},
    "y": {"field": "v", "type": "quantitative", "axis": null},
    "text": {"field": "txt"}
   }
  },
  {
   "data": {"values": [{"txt": "R", "t": -0.0159, "v": -8.35}]},
   "mark": {"type": "text", "fontSize": 12, "align": "left", "baseline": "middle", "dx": 11, "dy": 6},
   "encoding": {
    "x": {"field": "t", "type": "quantitative", "axis": null},
    "y": {"field": "v", "type": "quantitative", "axis": null},
    "text": {"field": "txt"}
   }
  },
  {
   "data": {"values": [{"txt": "-formation", "t": -0.0159, "v": -8.35}]},
   "mark": {"type": "text", "fontSize": 18, "align": "left", "baseline": "middle", "dx": 20},
   "encoding": {
    "x": {"field": "t", "type": "quantitative", "axis": null},
    "y": {"field": "v", "type": "quantitative", "axis": null},
    "text": {"field": "txt"}
   }
  }
 ]
},
{
 "width": 406, "height": 282,
 "resolve": {"axis": {"x": "independent", "y": "independent"}},
 "layer": [
  {
   "data": {"name": "b"},
   "mark": {"type": "line", "strokeWidth": 1.1},
   "encoding": {
    "x": {"field": "t", "type": "quantitative",
      "scale": {"type": "linear", "domain": [-0.031, 0.25, 14.5], "range": [0, 238, 406], "nice": false, "zero": false},
      "axis": {"orient": "bottom", "title": "time (ms)", "titleFontSize": 22, "titlePadding": 5, "labelFontSize": 19, "labelPadding": 18, "tickSize": -7,
        "values": [0, 0.1, 0.2, 5, 10], "labelExpr": "format(datum.value, '.1f')"}},
    "y": {"field": "v", "type": "quantitative",
      "scale": {"type": "linear", "domain": [-9.9, 2.55], "range": [282, 0], "nice": false, "zero": false},
      "axis": {"orient": "left", "title": "ΔA⁵⁸⁰ ∙ 1000", "titleFontSize": 23, "titlePadding": 8, "labelFontSize": 19, "labelPadding": 11, "tickSize": -7,
        "values": [2, 0, -2, -4, -6, -8], "labelExpr": "'' + datum.value"}},
    "detail": [{"field": "s", "type": "nominal"}, {"field": "p", "type": "nominal"}]
   }
  },
  {
   "data": {"name": "breaksB"},
   "mark": {"type": "rule", "xOffset": -1.5},
   "encoding": {
    "x": {"field": "x1", "type": "quantitative",
      "scale": {"type": "linear", "domain": [-0.031, 0.25, 14.5], "range": [0, 238, 406], "nice": false, "zero": false},
      "axis": {"orient": "top", "title": null, "labels": false, "tickSize": -7, "values": [0, 0.1, 0.2, 5, 10]}},
    "x2": {"field": "x2"},
    "y": {"field": "y1", "type": "quantitative",
      "scale": {"type": "linear", "domain": [-9.9, 2.55], "range": [282, 0], "nice": false, "zero": false},
      "axis": {"orient": "right", "title": null, "labels": false, "tickSize": -7, "values": [2, 0, -2, -4, -6, -8]}},
    "y2": {"field": "y2"}
   }
  },
  {
   "data": {"name": "breaksB"},
   "mark": {"type": "rule", "xOffset": 1.5},
   "encoding": {
    "x": {"field": "x1", "type": "quantitative",
      "axis": {"orient": "bottom", "title": null, "labels": false, "domain": false, "tickSize": -4,
        "values": [-0.02,0.02,0.04,0.06,0.08,0.12,0.14,0.16,0.18,0.22,0.24,1,2,3,4,6,7,8,9,11,12,13,14]}},
    "x2": {"field": "x2"},
    "y": {"field": "y1", "type": "quantitative",
      "axis": {"orient": "left", "title": null, "labels": false, "domain": false, "tickSize": -4,
        "values": [2.4,1.6,1.2,0.8,0.4,-0.4,-0.8,-1.2,-1.6,-2.4,-2.8,-3.2,-3.6,-4.4,-4.8,-5.2,-5.6,-6.4,-6.8,-7.2,-7.6,-8.4,-8.8,-9.2,-9.6]}},
    "y2": {"field": "y2"}
   }
  },
  {
   "data": {"values": [{"txt": "ED(II-101)", "t": 0.166, "v": 1.68}, {"txt": "WT", "t": 0.135, "v": -0.75}, {"txt": "SD(I-299)", "t": 0.165, "v": -3.0}, {"txt": "F-formation", "t": 0.141, "v": -5.27}, {"txt": "O-formation", "t": 7.03, "v": -3.27}]},
   "mark": {"type": "text", "fontSize": 18, "align": "center", "baseline": "middle"},
   "encoding": {
    "x": {"field": "t", "type": "quantitative",
      "axis": {"orient": "top", "title": null, "labels": false, "domain": false, "tickSize": -4,
        "values": [-0.02,0.02,0.04,0.06,0.08,0.12,0.14,0.16,0.18,0.22,0.24,1,2,3,4,6,7,8,9,11,12,13,14]}},
    "y": {"field": "v", "type": "quantitative",
      "axis": {"orient": "right", "title": null, "labels": false, "domain": false, "tickSize": -4,
        "values": [2.4,1.6,1.2,0.8,0.4,-0.4,-0.8,-1.2,-1.6,-2.4,-2.8,-3.2,-3.6,-4.4,-4.8,-5.2,-5.6,-6.4,-6.8,-7.2,-7.6,-8.4,-8.8,-9.2,-9.6]}},
    "text": {"field": "txt"}
   }
  },
  {
   "data": {"values": [{"txt": "B", "t": 12.8, "v": 1.81}]},
   "mark": {"type": "text", "fontSize": 25, "align": "center", "baseline": "middle"},
   "encoding": {
    "x": {"field": "t", "type": "quantitative", "axis": null},
    "y": {"field": "v", "type": "quantitative", "axis": null},
    "text": {"field": "txt"}
   }
  }
 ]
}
]
}
